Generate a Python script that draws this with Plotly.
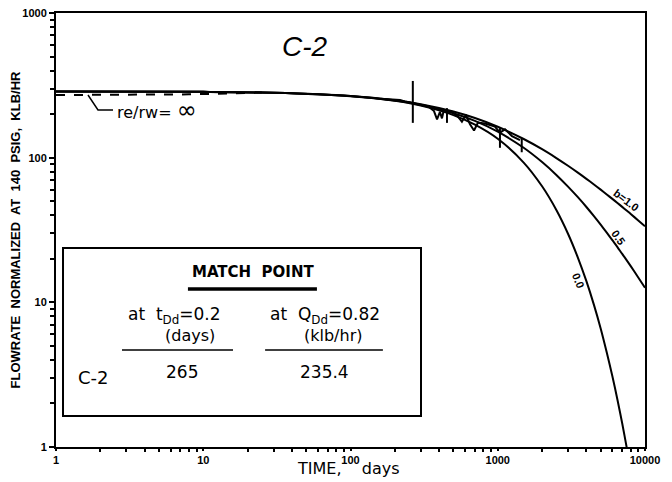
import plotly.graph_objects as go

# ---- data ----
time_days = [1, 10, 30, 100, 200, 300, 500, 700, 1000, 1500, 2000, 2500, 3000, 3500,
             4000, 4500, 5000, 5500, 6000, 6500, 7000, 7500, 8000, 9000, 10000]
q_b00 = [287, 285, 281, 266, 247, 229, 197, 169, 135, 92.5, 63.4, 43.5, 29.8, 20.4,
         14.0, 9.6, 6.6, 4.5, 3.1, 2.12, 1.46, 1.0, 0.69, None, None]
q_b05 = [287, 285, 281, 266.5, 248, 231.6, 203, 179.6, 151.3, 117, 93.2, 76.0, 63.1, 53.3,
         45.6, 39.4, 34.4, 30.3, 26.9, 24.1, 21.6, 19.6, 17.8, 14.85, 12.6]
q_b10 = [287, 285, 281, 267, 249.4, 234, 208.4, 187.8, 163.6, 134.6, 114.4, 99.4, 87.9, 78.8,
         71.4, 65.3, 60.1, 55.7, 51.9, 48.6, 45.7, 43.1, 40.8, 36.8, 33.6]

# re/rw = infinity transient stem (dashed)
inf_t = [1, 3, 8, 15, 25]
inf_q = [271, 272, 274, 278, 282]

# measured well C-2 data
meas_t = [160, 217, 234, 262, 297, 336, 369, 387, 405, 418, 431, 489, 537, 571, 608,
          648, 690, 734, 819, 957, 1035, 1120, 1249, 1416]
meas_q = [255, 250, 245, 240, 234, 227, 210, 184, 207, 187, 214, 208, 192, 177, 198,
          170, 154, 175, 172, 164, 149, 157, 141, 132]

# vertical marks (low, high)
mark_t = [265, 452, 1035, 1455]
mark_lo = [174, 174, 117, 109]
mark_hi = [339, 220, 160, 137]

curve_labels = ["b=1.0", "0.5", "0.0"]

x_ticks = [1, 10, 100, 1000, 10000]
x_ticktext = ["1", "10", "100", "1000", "10000"]
y_ticks = [1, 10, 100, 1000]
y_ticktext = ["1", "10", "100", "1000"]

FONT = "Liberation Sans"
WIDE = "DejaVu Sans"

fig = go.Figure()
for q in (q_b00, q_b05, q_b10):
    fig.add_trace(go.Scatter(x=time_days, y=q, mode="lines",
                             line=dict(color="black", width=2, shape="spline", smoothing=0.8),
                             showlegend=False, hoverinfo="skip"))
fig.add_trace(go.Scatter(x=inf_t, y=inf_q, mode="lines",
                         line=dict(color="black", width=2, dash="dash"),
                         showlegend=False, hoverinfo="skip"))
fig.add_trace(go.Scatter(x=meas_t, y=meas_q, mode="lines",
                         line=dict(color="black", width=2),
                         showlegend=False, hoverinfo="skip"))
mx, my = [], []
for t, lo, hi in zip(mark_t, mark_lo, mark_hi):
    mx += [t, t, None]
    my += [lo, hi, None]
fig.add_trace(go.Scatter(x=mx, y=my, mode="lines", line=dict(color="black", width=2),
                         showlegend=False, hoverinfo="skip"))

minor_x = [m * d for d in (1, 10, 100, 1000) for m in range(2, 10)]
minor_y = [m * d for d in (1, 10, 100) for m in range(2, 10)]

fig.update_xaxes(type="log", range=[0, 4], showline=True, linewidth=2, linecolor="black",
                 mirror=True, ticks="outside", ticklen=2, tickwidth=1.5, tickcolor="black",
                 tickvals=x_ticks, ticktext=x_ticktext, showgrid=False, zeroline=False,
                 automargin=False, ticklabeloverflow="allow",
                 tickfont=dict(family=FONT, size=11, color="black", weight="bold"),
                 minor=dict(ticks="outside", ticklen=3, tickwidth=1.5, tickcolor="black",
                            tickvals=minor_x, showgrid=False))
fig.update_yaxes(type="log", range=[0, 3], showline=True, linewidth=2, linecolor="black",
                 mirror=True, ticks="outside", ticklen=5, tickwidth=1.5, tickcolor="black",
                 tickvals=y_ticks, ticktext=y_ticktext, showgrid=False, zeroline=False,
                 automargin=False, ticklabeloverflow="allow",
                 tickfont=dict(family=FONT, size=11, color="black", weight="bold"),
                 minor=dict(ticks="outside", ticklen=4, tickwidth=1.5, tickcolor="black",
                            tickvals=minor_y, showgrid=False),
                 title=dict(text="FLOWRATE  NORMALIZED  AT  140  PSIG,  KLB/HR", standoff=4,
                            font=dict(family=FONT, size=13, color="black", weight="bold")))

ann = []
# curve labels (log-axis coordinates)
for txt, xl, yl, ang in zip(curve_labels, [3.871, 3.817, 3.545], [1.707, 1.452, 1.154], [37, 55, 68]):
    ann.append(dict(x=xl, y=yl, xref="x", yref="y", text=txt, showarrow=False, textangle=ang,
                    font=dict(family=FONT, size=11, color="black", weight="bold")))

def pann(x, y, text, size=17, weight="normal", xanchor="center", italic=False, family=WIDE):
    ann.append(dict(x=x, y=y, xref="paper", yref="paper", text=text, showarrow=False,
                    xanchor=xanchor, yanchor="middle",
                    font=dict(family=family, size=size, color="black", weight=weight,
                              style="italic" if italic else "normal")))

pann(0.422, 0.922, "C-2", size=28, italic=True, family=FONT)
pann(0.4966, -0.05, "TIME,    days", size=16)
pann(0.100, 0.7765, "re/rw= <span style='font-size:24px'>∞</span>", size=16, xanchor="left")
pann(0.3345, 0.4032, "MATCH  POINT", size=15, weight="bold")
pann(0.202, 0.304, "at  t<sub>Dd</sub>=0.2", size=17)
pann(0.2275, 0.2558, "(days)", size=16)
pann(0.4567, 0.304, "at  Q<sub>Dd</sub>=0.82", size=17)
pann(0.470, 0.2558, "(klb/hr)", size=16)
pann(0.0645, 0.161, "C-2", size=18)
pann(0.214, 0.1728, "265", size=17)
pann(0.4567, 0.1728, "235.4", size=17)

shapes = [
    dict(type="rect", xref="paper", yref="paper", x0=0.0119, x1=0.6197, y0=0.0714, y1=0.4585,
         line=dict(color="black", width=2)),
    dict(type="line", xref="paper", yref="paper", x0=0.224, x1=0.443, y0=0.364, y1=0.364,
         line=dict(color="black", width=3.5)),
    dict(type="line", xref="paper", yref="paper", x0=0.112, x1=0.3005, y0=0.2235, y1=0.2235,
         line=dict(color="black", width=1.5)),
    dict(type="line", xref="paper", yref="paper", x0=0.355, x1=0.555, y0=0.2235, y1=0.2235,
         line=dict(color="black", width=1.5)),
    dict(type="path", xref="paper", yref="paper",
         path="M 0.0543 0.811 L 0.0713 0.7765 L 0.0968 0.7765",
         line=dict(color="black", width=1.5)),
]

# the page body adds an 8px offset, so the figure is sized/margined to compensate
fig.update_layout(width=664, height=474, margin=dict(l=48, r=27, t=5, b=35),
                  plot_bgcolor="white", paper_bgcolor="white",
                  annotations=ann, shapes=shapes, showlegend=False)

fig.write_html("out.html")
